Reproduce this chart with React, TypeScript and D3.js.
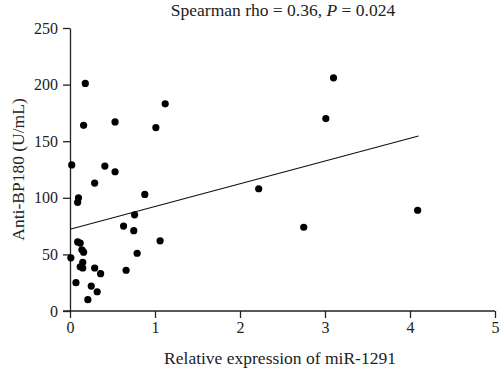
import React, { useEffect, useRef } from "react";
import * as d3 from "d3";

// relative expression of miR-1291 (x) vs Anti-BP180 U/mL (y)
const mirExpression = [
  0.18, 0.16, 0.53, 1.01, 1.12, 3.1, 3.01, 2.22, 2.75, 4.09,
  0.02, 0.41, 0.53, 0.29, 0.88, 0.1, 0.09, 0.76, 0.63, 0.75,
  1.06, 0.09, 0.12, 0.14, 0.16, 0.79, 0.01, 0.15, 0.12, 0.15,
  0.29, 0.36, 0.66, 0.07, 0.25, 0.32, 0.21,
];
const antiBP180 = [
  201, 164, 167, 162, 183, 206, 170, 108, 74, 89,
  129, 128, 123, 113, 103, 100, 96, 85, 75, 71,
  62, 61, 60, 54, 52, 51, 47, 43, 39, 38,
  38, 33, 36, 25, 22, 17, 10,
];
// fitted line end points
const fitX = [0, 4.1];
const fitY = [72.2, 154.6];

const xTicks = [0, 1, 2, 3, 4, 5];
const yTicks = [0, 50, 100, 150, 200, 250];

const title = "Spearman rho = 0.36, ";
const xLabel = "Relative expression of miR-1291";
const yLabel = "Anti-BP180 (U/mL)";

const App: React.FC = () => {
  const svgRef = useRef<SVGSVGElement>(null);

  useEffect(() => {
    if (!svgRef.current) return;
    const width = 500;
    const height = 373;
    const margin = { top: 28, right: 5, bottom: 62, left: 70 };
    const font = "'Liberation Serif', 'DejaVu Serif', serif";

    const svg = d3.select(svgRef.current);
    svg.selectAll("*").remove();
    svg.attr("width", width).attr("height", height);

    const innerWidth = width - margin.left - margin.right;
    const innerHeight = height - margin.top - margin.bottom;

    const g = svg
      .append("g")
      .attr("transform", `translate(${margin.left},${margin.top})`);

    const x = d3.scaleLinear().domain([0, 5]).range([0, innerWidth]);
    const y = d3.scaleLinear().domain([0, 250]).range([innerHeight, 0]);

    const xAxis = g
      .append("g")
      .attr("transform", `translate(0,${innerHeight})`)
      .call(
        d3.axisBottom(x).tickValues(xTicks).tickFormat(d3.format("d"))
          .tickSize(7).tickPadding(4).tickSizeOuter(0),
      );
    const yAxis = g
      .append("g")
      .call(
        d3.axisLeft(y).tickValues(yTicks).tickFormat(d3.format("d"))
          .tickSize(7).tickPadding(5).tickSizeOuter(0),
      );

    [xAxis, yAxis].forEach((ax) => {
      ax.select(".domain").attr("stroke", "#222").attr("stroke-width", 1.3);
      ax.selectAll(".tick line").attr("stroke", "#222").attr("stroke-width", 1.3);
      ax.selectAll(".tick text")
        .attr("fill", "#222")
        .style("font-family", font)
        .style("font-size", "16px");
    });
    // x-axis line extends left to meet the 0 tick
    xAxis.select(".domain").attr("d", `M-7,0H${innerWidth}`);

    const points = mirExpression.map((v, i) => ({ v, a: antiBP180[i] }));

    g.append("line")
      .attr("x1", x(fitX[0]))
      .attr("y1", y(fitY[0]))
      .attr("x2", x(fitX[1]))
      .attr("y2", y(fitY[1]))
      .attr("stroke", "#111")
      .attr("stroke-width", 1.2);

    g.selectAll("circle")
      .data(points)
      .enter()
      .append("circle")
      .attr("cx", (d) => x(d.v))
      .attr("cy", (d) => y(d.a))
      .attr("r", 3.6)
      .attr("fill", "#000");

    const t = svg
      .append("text")
      .attr("x", 283)
      .attr("y", 16)
      .attr("text-anchor", "middle")
      .attr("fill", "#222")
      .style("font-family", font)
      .style("font-size", "17.5px");
    t.append("tspan").text(title);
    t.append("tspan").style("font-style", "italic").text("P");
    t.append("tspan").text(" = 0.024");

    svg
      .append("text")
      .attr("x", 280)
      .attr("y", 364)
      .attr("text-anchor", "middle")
      .attr("fill", "#222")
      .style("font-family", font)
      .style("font-size", "17.5px")
      .text(xLabel);

    svg
      .append("text")
      .attr("transform", "rotate(-90)")
      .attr("x", -(margin.top + innerHeight / 2))
      .attr("y", 24)
      .attr("text-anchor", "middle")
      .attr("fill", "#222")
      .style("font-family", font)
      .style("font-size", "17.5px")
      .text(yLabel);
  }, []);

  return (
    <div style={{ position: "absolute", left: 0, top: 0, background: "#fff" }}>
      <svg ref={svgRef}></svg>
    </div>
  );
};

export default App;
